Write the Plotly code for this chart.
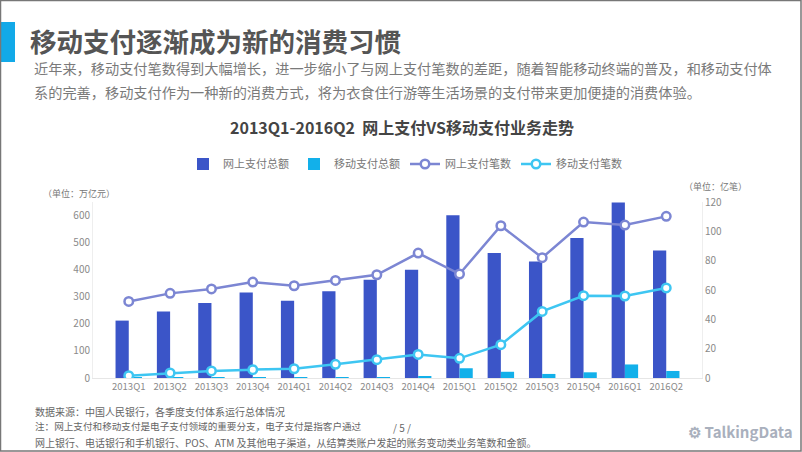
import plotly.graph_objects as go

# datos
trimestres = ["2013Q1", "2013Q2", "2013Q3", "2013Q4", "2014Q1", "2014Q2", "2014Q3",
              "2014Q4", "2015Q1", "2015Q2", "2015Q3", "2015Q4", "2016Q1", "2016Q2"]
monto_web = [212, 246, 277, 316, 285, 320, 363, 400, 601, 462, 430, 517, 648, 471]
monto_movil = [0.6, 0.8, 1.0, 1.3, 1.6, 2.4, 3.4, 4.6, 36, 23, 15, 21, 50, 26]
cant_web = [52.2, 57.7, 60.7, 65.4, 62.9, 66.5, 70.4, 85.2, 70.9, 103.8, 82, 106.3, 104.3, 110.2]
cant_movil = [1.6, 3.4, 4.8, 5.7, 6.3, 9.3, 12.5, 16.1, 13.4, 22.7, 45.4, 56.1, 55.9, 61.4]

W, H = 802, 452
L, R, T, B = 93, 702, 202, 378  # área del gráfico en píxeles

def px(x):
    return (x - L) / (R - L)

def py(y):
    return (B - y) / (B - T)

FUENTE = "Noto Sans CJK SC"
GRIS = "#8a8a8a"

fig = go.Figure()
fig.add_trace(go.Bar(x=trimestres, y=monto_web, name="网上支付总额",
                     marker=dict(color="#3b55c8", line=dict(width=0))))
fig.add_trace(go.Bar(x=trimestres, y=monto_movil, name="移动支付总额",
                     marker=dict(color="#12b0ea", line=dict(width=0))))
fig.add_trace(go.Scatter(x=trimestres, y=cant_web, name="网上支付笔数", yaxis="y2",
                         mode="lines+markers", line=dict(color="#7c86d3", width=2.5),
                         marker=dict(size=8.5, color="white", line=dict(color="#7c86d3", width=2.5))))
fig.add_trace(go.Scatter(x=trimestres, y=cant_movil, name="移动支付笔数", yaxis="y2",
                         mode="lines+markers", line=dict(color="#3ec6f2", width=2.5),
                         marker=dict(size=8.5, color="white", line=dict(color="#3ec6f2", width=2.5))))

anot = []
def texto(x, y, t, size, color, xanchor="left", **kw):
    anot.append(dict(x=px(x), y=py(y), xref="paper", yref="paper", text=t, showarrow=False,
                     xanchor=xanchor, yanchor="middle", borderpad=0,
                     font=dict(family=FUENTE, size=size, color=color), **kw))

texto(29, 40, "<b>移动支付逐渐成为新的消费习惯</b>", 26.5, "#555555")
texto(33, 68, "近年来，移动支付笔数得到大幅增长，进一步缩小了与网上支付笔数的差距，随着智能移动终端的普及，和移动支付体", 14.2, "#7a7a7a")
texto(33, 92, "系的完善，移动支付作为一种新的消费方式，将为衣食住行游等生活场景的支付带来更加便捷的消费体验。", 14.2, "#7a7a7a")
texto(402, 127, "<b>2013Q1-2016Q2  网上支付VS移动支付业务走势</b>", 16, "#444444", xanchor="center")
texto(42, 193, "（单位：万亿元）", 9, "#777777")
texto(683, 186, "（单位：亿笔）", 9, "#777777")
texto(34, 411, "数据来源：中国人民银行，各季度支付体系运行总体情况", 10, "#666666")
texto(34, 426, "注：网上支付和移动支付是电子支付领域的重要分支，电子支付是指客户通过", 9.6, "#666666")
texto(34, 442, "网上银行、电话银行和手机银行、POS、ATM 及其他电子渠道，从结算类账户发起的账务变动类业务笔数和金额。", 10, "#666666")
texto(402, 427, "/ 5 /", 10, "#666666", xanchor="center")
texto(740, 431, "<b>⚙ TalkingData</b>", 15, "#a9b0bd", xanchor="center")

formas = [
    # barra azul del título
    dict(type="rect", xref="paper", yref="paper", x0=px(0), x1=px(15), y0=py(22), y1=py(62),
         fillcolor="#12a9e8", line=dict(width=0)),
    # marco gris
    dict(type="rect", xref="paper", yref="paper", x0=px(0.5), x1=px(801), y0=py(0.5), y1=py(451),
         fillcolor="rgba(0,0,0,0)", line=dict(color="#777777", width=1.5)),
]

fig.update_layout(
    width=W, height=H,
    margin=dict(l=L, r=W - R, t=T, b=H - B, autoexpand=False),
    paper_bgcolor="white", plot_bgcolor="white",
    font=dict(family=FUENTE, color=GRIS),
    barmode="group", bargap=0.36, bargroupgap=0,
    showlegend=True,
    legend=dict(orientation="h", x=px(405), xanchor="center", y=py(164), yanchor="middle",
                font=dict(size=11, color="#777777"), itemwidth=30, traceorder="normal"),
    xaxis=dict(showgrid=False, showline=True, linecolor="#e6e6e6", ticks="",
               tickfont=dict(size=9.5, color=GRIS)),
    yaxis=dict(range=[0, 650], tickvals=[0, 100, 200, 300, 400, 500, 600], showgrid=False,
               showline=True, linecolor="#eeeeee", zeroline=False, ticks="",
               tickfont=dict(size=10, color=GRIS)),
    yaxis2=dict(range=[0, 120], dtick=20, overlaying="y", side="right", showgrid=False,
                showline=True, linecolor="#eeeeee", zeroline=False, ticks="",
                tickfont=dict(size=10, color=GRIS)),
    annotations=anot,
    shapes=formas,
)

fig.write_html("out.html", config={"displayModeBar": False},
               post_script="document.body.style.margin='0px';")
